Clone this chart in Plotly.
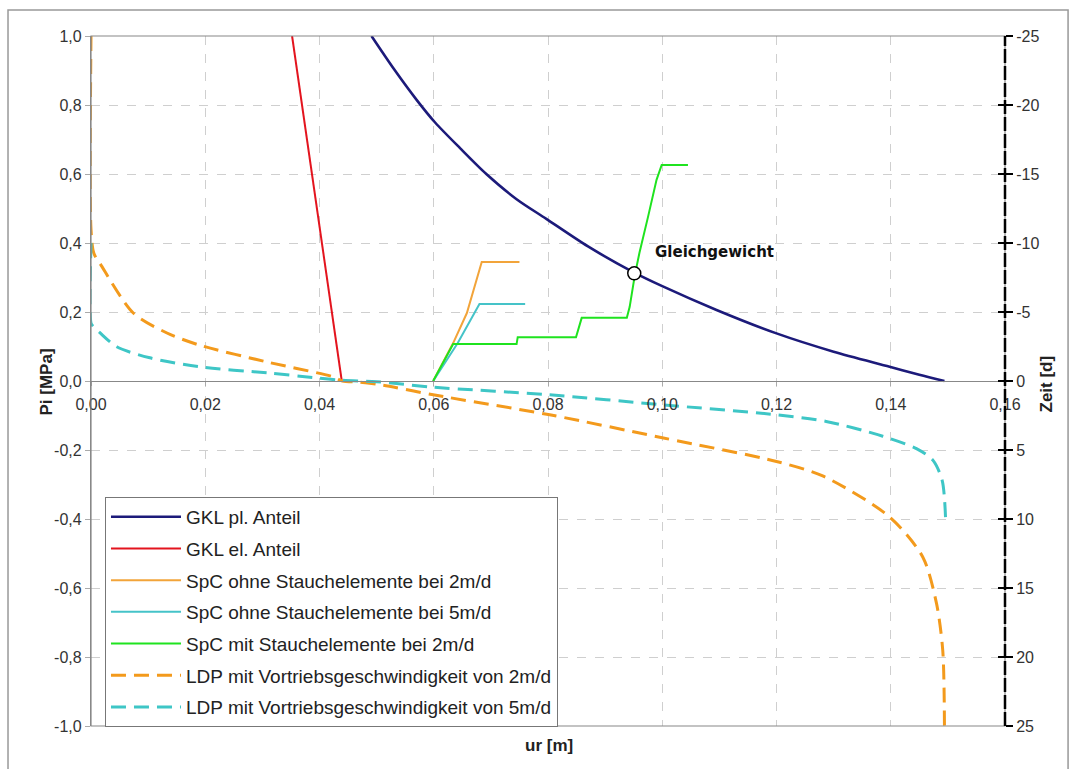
import plotly.graph_objects as go

# ---------------- data ----------------
# GKL (ground reaction curve), ur [m] vs Pi [MPa]
gkl_pl_ur = [0.0491, 0.0530, 0.0570, 0.0602, 0.0646, 0.0692, 0.0745, 0.0797, 0.0870, 0.0950, 0.1000, 0.1095, 0.1200, 0.1300, 0.1398, 0.1450, 0.1494]
gkl_pl_pi = [1.000, 0.905, 0.815, 0.750, 0.675, 0.600, 0.527, 0.470, 0.390, 0.315, 0.275, 0.206, 0.138, 0.085, 0.0415, 0.018, 0.0]

gkl_el_ur = [0.0352, 0.0439]
gkl_el_pi = [1.0, 0.0]

# SpC (support characteristic curves)
spc2_ur = [0.0599, 0.0634, 0.0658, 0.0684, 0.0750]
spc2_pi = [0.0, 0.110, 0.197, 0.345, 0.345]

spc5_ur = [0.0599, 0.0642, 0.0680, 0.0760]
spc5_pi = [0.0, 0.110, 0.223, 0.223]

spcm_ur = [0.0599, 0.0634, 0.0745, 0.0747, 0.0849, 0.0859, 0.0938, 0.0943, 0.0952, 0.0960, 0.0975, 0.0990, 0.0999, 0.1045]
spcm_pi = [0.0, 0.107, 0.107, 0.127, 0.127, 0.183, 0.183, 0.215, 0.307, 0.371, 0.475, 0.583, 0.626, 0.626]

# LDP (longitudinal deformation profile), ur [m] vs Zeit [d]
ldp2_ur = [0.0, 0.0, 0.0005, 0.0016, 0.0074, 0.0133, 0.0190, 0.0308, 0.0424, 0.0440, 0.0470, 0.0511, 0.0599, 0.0803, 0.1002, 0.1200, 0.1282, 0.1398, 0.1456, 0.1480, 0.1491, 0.1494]
ldp2_t = [-25.0, -11.0, -9.25, -8.5, -4.93, -3.48, -2.6, -1.38, -0.3, 0.0, 0.08, 0.3, 1.0, 2.45, 4.13, 5.83, 6.9, 9.85, 12.75, 16.1, 19.5, 25.0]

ldp5_ur = [0.0, 0.0, 0.0003, 0.0016, 0.0045, 0.0103, 0.0190, 0.0310, 0.0395, 0.0440, 0.0500, 0.0599, 0.0803, 0.1002, 0.1200, 0.1287, 0.1386, 0.1445, 0.1474, 0.1490, 0.1496]
ldp5_t = [-10.0, -4.2, -4.0, -3.48, -2.48, -1.68, -1.03, -0.58, -0.23, -0.05, 0.05, 0.45, 1.0, 1.73, 2.45, 2.93, 4.0, 4.9, 5.75, 7.2, 10.0]

# equilibrium point
eq_ur = [0.0951]
eq_pi = [0.312]
eq_label = "Gleichgewicht"

# tick labels
x_ticks = [0.00, 0.02, 0.04, 0.06, 0.08, 0.10, 0.12, 0.14, 0.16]
x_ticktext = ["0,00", "0,02", "0,04", "0,06", "0,08", "0,10", "0,12", "0,14", "0,16"]
y_ticks = [1.0, 0.8, 0.6, 0.4, 0.2, 0.0, -0.2, -0.4, -0.6, -0.8, -1.0]
y_ticktext = ["1,0", "0,8", "0,6", "0,4", "0,2", "0,0", "-0,2", "-0,4", "-0,6", "-0,8", "-1,0"]
y2_ticks = [-25, -20, -15, -10, -5, 0, 5, 10, 15, 20, 25]
y2_ticktext = ["-25", "-20", "-15", "-10", "-5", "0", "5", "10", "15", "20", "25"]

# ---------------- figure ----------------
C_NAVY = "#1c1a7a"
C_RED = "#e3141e"
C_ORANGE = "#f2a43a"
C_CYAN = "#45c3c8"
C_GREEN = "#1fe31f"
C_ORANGE_D = "#f39a1c"
C_CYAN_D = "#3ec6c6"

fig = go.Figure()

def add(x, y, name, color, width, dash="solid", yaxis="y", shape="linear"):
    fig.add_trace(go.Scatter(x=x, y=y, name=name, mode="lines", yaxis=yaxis,
                             legendgroup=name,
                             line=dict(color=color, width=width, dash=dash, shape=shape,
                                       smoothing=0.8 if shape == "spline" else None)))

add(gkl_pl_ur, gkl_pl_pi, "GKL pl. Anteil", C_NAVY, 2.6, shape="spline")
add(gkl_el_ur, gkl_el_pi, "GKL el. Anteil", C_RED, 2)
add(spc2_ur, spc2_pi, "SpC ohne Stauchelemente bei 2m/d", C_ORANGE, 2)
add(spc5_ur, spc5_pi, "SpC ohne Stauchelemente bei 5m/d", C_CYAN, 2)
add(spcm_ur, spcm_pi, "SpC mit Stauchelemente bei 2m/d", C_GREEN, 2)
add(ldp2_ur, ldp2_t, "LDP mit Vortriebsgeschwindigkeit von 2m/d", C_ORANGE_D, 3, "15px,8px", "y2", "spline")
add(ldp5_ur, ldp5_t, "LDP mit Vortriebsgeschwindigkeit von 5m/d", C_CYAN_D, 3, "15px,8px", "y2", "spline")

fig.add_trace(go.Scatter(x=eq_ur, y=eq_pi, mode="markers", showlegend=False,
                         marker=dict(symbol="circle", size=13, color="white",
                                     line=dict(color="black", width=1.5))))

grid = dict(showgrid=True, gridcolor="#cfcfcf", griddash="dash", gridwidth=1)
tickfont = dict(family="Liberation Sans, Arial, sans-serif", size=16, color="#333333")

fig.update_layout(
    width=1070, height=769,
    margin=dict(l=91, r=65, t=36, b=43),
    paper_bgcolor="white", plot_bgcolor="white",
    font=dict(family="Liberation Sans, Arial, sans-serif", color="#222222"),
    xaxis=dict(range=[0, 0.16], tickvals=x_ticks, ticktext=x_ticktext,
               anchor="free", position=0.5, showline=True, linecolor="#888888", linewidth=1.2,
               ticks="outside", ticklen=4, tickcolor="#aaaaaa", ticklabelstandoff=5,
               tickfont=tickfont, zeroline=False, **grid),
    yaxis=dict(range=[-1, 1], tickvals=y_ticks, ticktext=y_ticktext,
               showline=True, linecolor="#888888", linewidth=1.2,
               ticks="outside", ticklen=5, tickcolor="#aaaaaa",
               tickfont=tickfont, zeroline=False, **grid),
    yaxis2=dict(range=[25, -25], overlaying="y", side="right", anchor="x",
                tickvals=y2_ticks, ticktext=y2_ticktext,
                showline=False, ticks="outside", ticklen=7, tickwidth=2, tickcolor="black",
                tickfont=tickfont, showgrid=False, zeroline=False),
    yaxis3=dict(range=[25, -25], overlaying="y", side="right", anchor="x",
                tickvals=y2_ticks, showticklabels=False,
                showline=False, ticks="inside", ticklen=7, tickwidth=2, tickcolor="black",
                showgrid=False, zeroline=False),
    legend=dict(x=0.0153, y=0.332, xanchor="left", yanchor="top",
                bgcolor="white", bordercolor="#777777", borderwidth=1,
                font=dict(family="Liberation Sans, Arial, sans-serif", size=19, color="#222222"),
                traceorder="grouped", tracegroupgap=4, itemwidth=70),
    showlegend=True,
)

# dummy trace to make yaxis3 render
fig.add_trace(go.Scatter(x=[None], y=[None], yaxis="y3", showlegend=False, hoverinfo="skip"))

# plot frame (top/bottom) and right time axis line
fig.add_shape(type="rect", xref="paper", yref="paper", x0=0, x1=1, y0=0, y1=1,
              line=dict(color="#888888", width=1.2), layer="above")
fig.add_shape(type="line", xref="paper", yref="paper", x0=1, x1=1, y0=0, y1=1,
              line=dict(color="black", width=2.5, dash="14px,3px"), layer="above")
# outer chart border
fig.add_shape(type="rect", xref="paper", yref="paper", x0=-0.0908, x1=1.069, y0=-0.08, y1=1.0377,
              line=dict(color="#999999", width=1.5), layer="below")

bold = dict(family="Liberation Sans, Arial, sans-serif", size=17, color="#222222")
fig.add_annotation(x=eq_ur[0] + 0.0033, y=eq_pi[0] + 0.062, xref="x", yref="y", text="<b>" + eq_label + "</b>",
                   showarrow=False, xanchor="left", yanchor="middle",
                   font=dict(family="DejaVu Sans, sans-serif", size=15, color="#111111"))
fig.add_annotation(xref="paper", yref="paper", x=(549 - 91) / 914, y=(726 - 757) / 690,
                   text="<b>ur [m]</b>", showarrow=False, font=bold)
fig.add_annotation(xref="paper", yref="paper", x=(35 - 91) / 914, y=(726 - 382) / 690,
                   text="<b>Pi [MPa]</b>", showarrow=False, textangle=-90, font=bold)
fig.add_annotation(xref="paper", yref="paper", x=(1057 - 91) / 914, y=(726 - 384) / 690,
                   text="<b>Zeit [d]</b>", showarrow=False, textangle=-90, font=bold)

fig.write_html("out.html")
